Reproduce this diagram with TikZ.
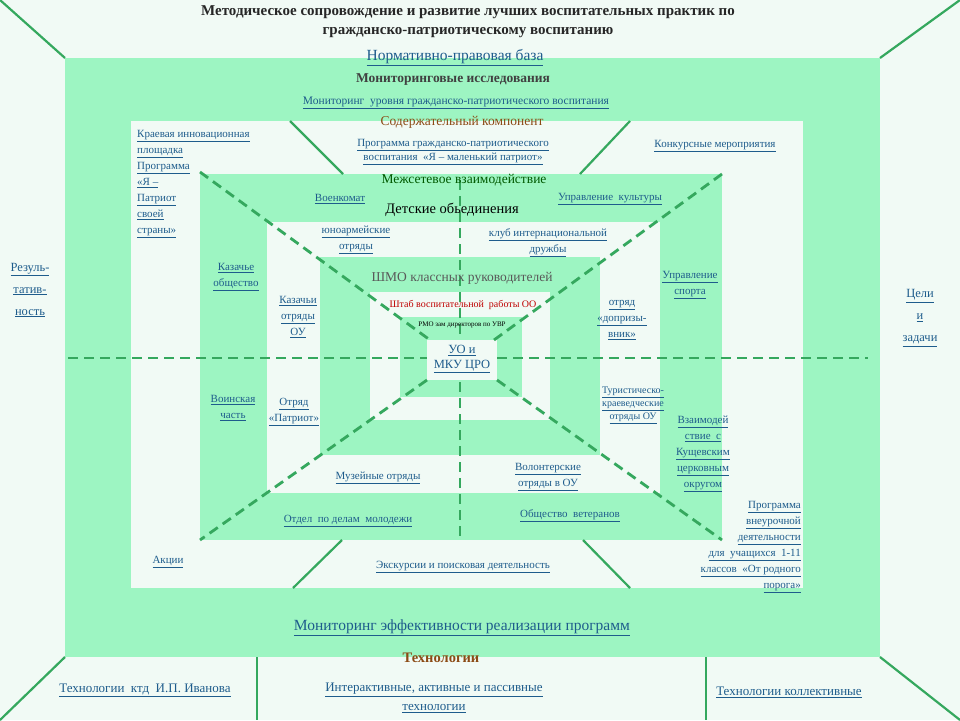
\documentclass[tikz,border=0pt]{standalone}
\usepackage{fontspec}
\setmainfont{Liberation Serif}
\newcommand{\lk}[1]{\underline{#1}}
\definecolor{gr}{HTML}{9DF5C2}
\definecolor{wh}{HTML}{F1FAF5}
\definecolor{ln}{HTML}{35A85E}
\definecolor{lb}{HTML}{1E5C8C}
\definecolor{br}{HTML}{8B4A14}
\tikzset{
 lab/.style={text=lb,font=\fontsize{11}{14}\selectfont,align=center,inner sep=1pt},
 hd/.style={font=\fontsize{13.5}{15}\selectfont,inner sep=1pt},
 sl/.style={ln,line width=2.2pt},
 dl/.style={ln,line width=2.8pt,dash pattern=on 10pt off 6pt},
}
\begin{document}
\begin{tikzpicture}[x=1pt,y=-1pt]
\fill[wh] (0,0) rectangle (960,720);
\useasboundingbox (0,0) rectangle (960,720);
\fill[gr] (65,58) rectangle (880,657);
\fill[wh] (131,121) rectangle (803,588);
\fill[gr] (200,174) rectangle (722,540);
\fill[wh] (267,222) rectangle (660,493);
\fill[gr] (320,257) rectangle (600,455);
\fill[wh] (370,292) rectangle (550,420);
\fill[gr] (400,317) rectangle (522,397);
\fill[wh] (427,340) rectangle (497,380);
% coordinates
\coordinate (c0) at (0,0); \coordinate (c1) at (960,0);
\coordinate (c2) at (0,720); \coordinate (c3) at (960,720);
\coordinate (g0) at (65,58); \coordinate (g1) at (880,58);
\coordinate (g2) at (65,657); \coordinate (g3) at (880,657);
\draw[sl] (c0)--(g0); \draw[sl] (c1)--(g1); \draw[sl] (c2)--(g2); \draw[sl] (c3)--(g3);
\coordinate (b1) at (257,657); \coordinate (b1e) at (257,720);
\coordinate (b2) at (706,657); \coordinate (b2e) at (706,720);
\draw[ln,line width=1.2pt] (b1)--(b1e); \draw[ln,line width=1.2pt] (b2)--(b2e);
\coordinate (s1a) at (290,121); \coordinate (s1b) at (343,174);
\coordinate (s2a) at (630,121); \coordinate (s2b) at (580,174);
\coordinate (s3a) at (342,540); \coordinate (s3b) at (293,588);
\coordinate (s4a) at (583,540); \coordinate (s4b) at (630,588);
\draw[sl] (s1a)--(s1b); \draw[sl] (s2a)--(s2b); \draw[sl] (s3a)--(s3b); \draw[sl] (s4a)--(s4b);
\coordinate (d1) at (200,172); \coordinate (e1) at (430,340);
\coordinate (d2) at (722,174); \coordinate (e2) at (494,340);
\coordinate (d3) at (200,540); \coordinate (e3) at (427,380);
\coordinate (d4) at (722,540); \coordinate (e4) at (497,380);
\draw[dl] (d1)--(e1); \draw[dl] (d2)--(e2); \draw[dl] (e3)--(d3); \draw[dl] (e4)--(d4);
\coordinate (h1) at (68,358); \coordinate (h2) at (427,358);
\coordinate (h3) at (497,358); \coordinate (h4) at (868,358);
\draw[dl] (h1)--(h2); \draw[dl] (h3)--(h4);
\coordinate (v1) at (460,180); \coordinate (v2) at (460,340);
\coordinate (v3) at (460,382); \coordinate (v4) at (460,540);
\draw[dl] (v1)--(v2); \draw[dl] (v3)--(v4);
% texts
\node[font=\fontsize{15}{19}\bfseries\selectfont,align=center,text=black!85] (t) at (468,22) {Методическое сопровождение и развитие лучших воспитательных практик по\\гражданско-патриотическому воспитанию};
\node[lab,font=\fontsize{15.5}{17}\selectfont] (n1) at (455,58) {\lk{Нормативно-правовая база}};
\node[hd,font=\fontsize{13.5}{15}\bfseries\selectfont,text=black!75] (n2) at (453,80) {Мониторинговые исследования};
\node[lab,font=\fontsize{11.5}{13}\selectfont] (n3) at (456,103) {\lk{Мониторинг\ \ уровня гражданско-патриотического воспитания}};
\node[hd,text=br] (n4) at (462,122) {Содержательный компонент};
\node[lab] (n5) at (453,152) {\lk{Программа гражданско-патриотического}\\\lk{воспитания\ \ «Я – маленький патриот»}};
\node[lab,align=left,anchor=north west,font=\fontsize{11}{16}\selectfont] (n6) at (136,129) {\lk{Краевая инновационная}\\\lk{площадка}\\\lk{Программа}\\\lk{«Я –}\\\lk{Патриот}\\\lk{своей}\\\lk{страны»}};
\node[lab] (n7) at (715,146) {\lk{Конкурсные мероприятия}};
\node[hd,text=green!35!black] (n8) at (464,180) {Межсетевое взаимодействие};
\node[lab] (n9) at (340,199) {\lk{Военкомат}};
\node[lab] (n10) at (610,199) {\lk{Управление\ \ культуры}};
\node[hd,font=\fontsize{14.5}{16}\selectfont] (n11) at (452,210) {Детские обьединения};
\node[lab,font=\fontsize{11}{16}\selectfont] (n12) at (356,240) {\lk{юноармейские}\\\lk{отряды}};
\node[lab,font=\fontsize{11}{16}\selectfont] (n13) at (548,243) {\lk{клуб интернациональной}\\\lk{дружбы}};
\node[lab,font=\fontsize{11}{16}\selectfont] (n14) at (236,277) {\lk{Казачье}\\\lk{общество}};
\node[lab,font=\fontsize{11}{16}\selectfont] (n15) at (690,285) {\lk{Управление}\\\lk{спорта}};
\node[hd,text=black!65] (n16) at (462,278) {ШМО классных руководителей};
\node[lab,font=\fontsize{11}{16}\selectfont] (n17) at (298,317) {\lk{Казачьи}\\\lk{отряды}\\\lk{ОУ}};
\node[lab,font=\fontsize{11}{16}\selectfont] (n18) at (622,320) {\lk{отряд}\\\lk{«допризы-}\\\lk{вник»}};
\node[font=\fontsize{10}{12}\selectfont,text=red!75!black,inner sep=1pt] (n19) at (463,305) {Штаб воспитательной\ \ работы ОО};
\node[font=\fontsize{7}{9}\selectfont,inner sep=1pt] (n20) at (462,325) {РМО зам директоров по УВР};
\node[lab,font=\fontsize{12.5}{15}\selectfont] (n21) at (462,359) {\lk{УО и}\\\lk{МКУ ЦРО}};
\node[lab,font=\fontsize{12.5}{22}\selectfont] (n22) at (30,290) {\lk{Резуль-}\\\lk{татив-}\\\lk{ность}};
\node[lab,font=\fontsize{12.5}{22}\selectfont] (n23) at (920,318) {\lk{Цели}\\\lk{и}\\\lk{задачи}};
\node[lab,font=\fontsize{11}{16}\selectfont] (n24) at (233,408) {\lk{Воинская}\\\lk{часть}};
\node[lab,font=\fontsize{11}{16}\selectfont] (n25) at (294,412) {\lk{Отряд}\\\lk{«Патриот»}};
\node[lab,font=\fontsize{10}{13}\selectfont] (n26) at (633,405) {\lk{Туристическо-}\\\lk{краеведческие}\\\lk{отряды ОУ}};
\node[lab,font=\fontsize{11}{16}\selectfont] (n27) at (703,454) {\lk{Взаимодей}\\\lk{ствие\ \ с}\\\lk{Кущевским}\\\lk{церковным}\\\lk{округом}};
\node[lab] (n28) at (378,478) {\lk{Музейные отряды}};
\node[lab,font=\fontsize{11}{16}\selectfont] (n29) at (548,477) {\lk{Волонтерские}\\\lk{отряды в ОУ}};
\node[lab] (n30) at (348,521) {\lk{Отдел\ \ по делам\ \ молодежи}};
\node[lab] (n31) at (570,516) {\lk{Общество\ \ ветеранов}};
\node[lab] (n32) at (168,562) {\lk{Акции}};
\node[lab] (n33) at (463,567) {\lk{Экскурсии и поисковая деятельность}};
\node[lab,align=right,anchor=north east,font=\fontsize{11}{16}\selectfont] (n34) at (802,500) {\lk{Программа}\\\lk{внеурочной}\\\lk{деятельности}\\\lk{для\ \ учащихся\ \ 1-11}\\\lk{классов\ \ «От родного}\\\lk{порога»}};
\node[lab,font=\fontsize{15.5}{17}\selectfont] (n35) at (462,628) {\lk{Мониторинг эффективности реализации программ}};
\node[hd,font=\fontsize{14.5}{16}\bfseries\selectfont,text=br] (n36) at (441,658) {Технологии};
\node[lab,font=\fontsize{13}{15}\selectfont] (n37) at (145,690) {\lk{Технологии\ \ ктд\ \ И.П. Иванова}};
\node[lab,font=\fontsize{13}{19}\selectfont] (n38) at (434,698) {\lk{Интерактивные, активные и пассивные}\\\lk{технологии}};
\node[lab,font=\fontsize{13}{15}\selectfont] (n39) at (789,692) {\lk{Технологии коллективные}};
\end{tikzpicture}
\end{document}
